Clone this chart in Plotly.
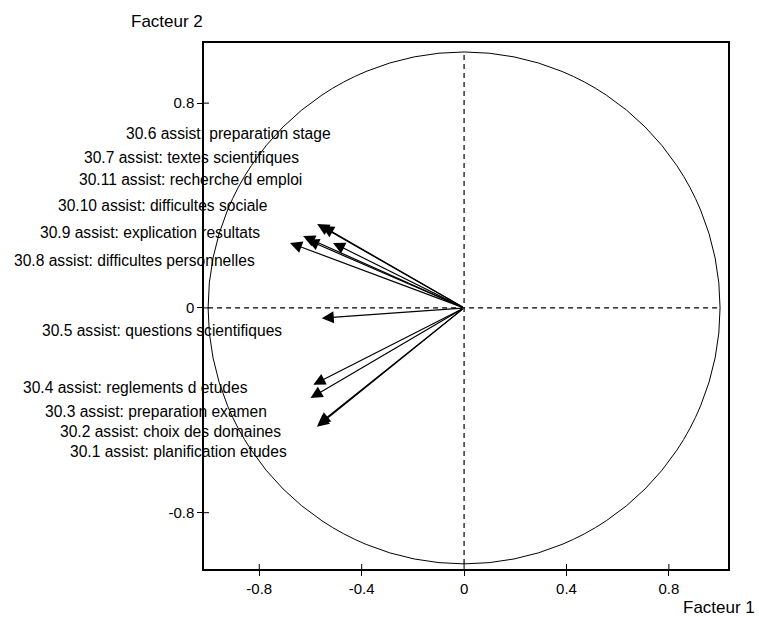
import plotly.graph_objects as go

# Variable labels and their loadings on factor 1 / factor 2
labels = [
    "30.6 assist: preparation stage",
    "30.7 assist: textes scientifiques",
    "30.11 assist: recherche d emploi",
    "30.10 assist: difficultes sociale",
    "30.9 assist: explication resultats",
    "30.8 assist: difficultes personnelles",
    "30.5 assist: questions scientifiques",
    "30.4 assist: reglements d etudes",
    "30.3 assist: preparation examen",
    "30.2 assist: choix des domaines",
    "30.1 assist: planification etudes",
]
factor1 = [-0.555, -0.574, -0.629, -0.613, -0.512, -0.680, -0.556, -0.589, -0.600, -0.575, -0.570]
factor2 = [0.320, 0.328, 0.281, 0.266, 0.254, 0.254, -0.040, -0.300, -0.352, -0.464, -0.455]

x_ticks = [-0.8, -0.4, 0, 0.4, 0.8]
x_ticklabels = ["-0.8", "-0.4", "0", "0.4", "0.8"]
y_ticks = [-0.8, 0, 0.8]
y_ticklabels = ["-0.8", "0", "0.8"]

# label placement (left edge, vertical centre) in paper units
label_px = [-0.153, -0.233, -0.242, -0.282, -0.317, -0.366, -0.313, -0.349, -0.307, -0.279, -0.260]
label_py = [0.827, 0.783, 0.740, 0.692, 0.639, 0.586, 0.454, 0.346, 0.300, 0.262, 0.224]

X_RANGE = [-1.016, 1.031]
Y_RANGE = [-1.02, 1.035]
FONT = "Liberation Sans, Arial, sans-serif"

fig = go.Figure()

fig.add_trace(go.Scatter(x=[0], y=[0], mode="markers", marker=dict(size=1, color="rgba(0,0,0,0)"),
                         showlegend=False, hoverinfo="skip"))

# unit circle
fig.add_shape(type="circle", xref="x", yref="y", x0=-1, y0=-1, x1=1, y1=1,
              line=dict(color="black", width=1))
# dashed axes
fig.add_shape(type="line", xref="x", yref="y", x0=-1, y0=0, x1=1, y1=0,
              line=dict(color="black", width=1.2, dash="5px,4px"))
fig.add_shape(type="line", xref="x", yref="y", x0=0, y0=-1, x1=0, y1=1,
              line=dict(color="black", width=1.2, dash="5px,4px"))

# inner halves of the crossing tick marks
for v in x_ticks:
    fig.add_shape(type="line", xref="x", yref="y", ysizemode="pixel", yanchor=Y_RANGE[0],
                  x0=v, x1=v, y0=0, y1=5, line=dict(color="black", width=1))
for v in y_ticks:
    fig.add_shape(type="line", xref="x", yref="y", xsizemode="pixel", xanchor=X_RANGE[0],
                  y0=v, y1=v, x0=0, x1=5, line=dict(color="black", width=1))

# arrows
for fx, fy in zip(factor1, factor2):
    fig.add_annotation(x=fx, y=fy, ax=0, ay=0, xref="x", yref="y", axref="x", ayref="y",
                       text="", showarrow=True, arrowhead=2, arrowsize=2.0, arrowwidth=1.2,
                       arrowcolor="black", standoff=0, startstandoff=0)

# labels
for lab, lx, ly in zip(labels, label_px, label_py):
    fig.add_annotation(x=lx, y=ly, xref="paper", yref="paper", text=lab, showarrow=False,
                       xanchor="left", yanchor="middle",
                       font=dict(family=FONT, size=15.6, color="black"))

# axis titles
fig.add_annotation(x=-0.143, y=1.04, xref="paper", yref="paper", text="Facteur 2", showarrow=False,
                   xanchor="left", yanchor="middle",
                   font=dict(family=FONT, size=17, color="black"))
fig.add_annotation(x=1.055, y=-0.074, xref="paper", yref="paper", text="Facteur 1", showarrow=False,
                   xanchor="right", yanchor="middle",
                   font=dict(family=FONT, size=17, color="black"))

axis_common = dict(showgrid=False, zeroline=False, showline=True, linecolor="black", linewidth=1.5,
                   mirror=True, ticks="outside", ticklen=5, tickwidth=1, tickcolor="black",
                   tickfont=dict(family=FONT, size=15, color="black"))

fig.update_layout(
    width=759, height=617,
    margin=dict(l=204, r=31, t=43, b=48),
    paper_bgcolor="white", plot_bgcolor="white",
    showlegend=False,
    xaxis=dict(range=X_RANGE, tickvals=x_ticks, ticktext=x_ticklabels, **axis_common),
    yaxis=dict(range=Y_RANGE, tickvals=y_ticks, ticktext=y_ticklabels, **axis_common),
)

fig.write_html("out.html", config={"displayModeBar": False},
               post_script="document.body.style.margin='0px';document.body.style.overflow='hidden';")
